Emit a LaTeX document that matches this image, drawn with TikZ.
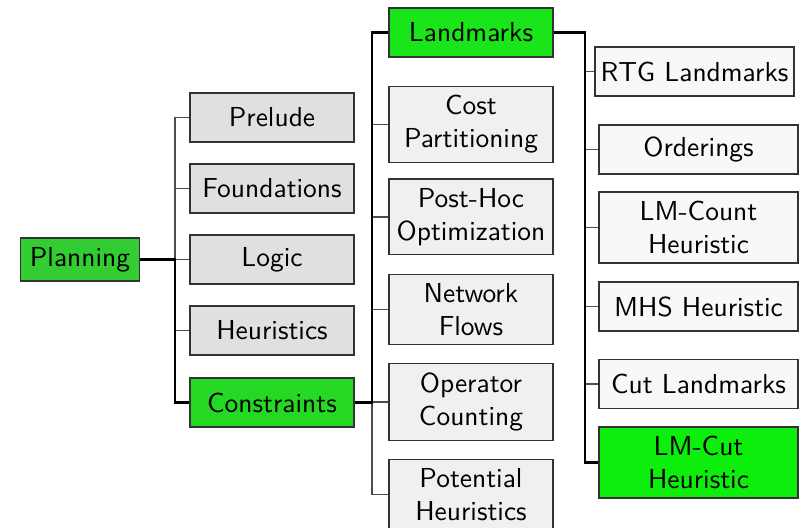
\documentclass[tikz,border=0pt]{standalone}
\usepackage{tikz}
\usetikzlibrary{positioning}
\definecolor{rootgreen}{RGB}{51,204,51}
\definecolor{onegreen}{RGB}{36,216,36}
\definecolor{twogreen}{RGB}{26,228,26}
\definecolor{threegreen}{RGB}{13,238,13}
\definecolor{grayone}{RGB}{224,224,224}
\definecolor{graytwo}{RGB}{240,240,240}
\definecolor{graythree}{RGB}{248,248,248}

\begin{document}
\begin{tikzpicture}[x=0.0128cm, y=-0.0128cm, font=\sffamily,
    box/.style={draw=black!80, rectangle, align=center, line width=0.5pt},
    lvlone/.style={box, fill=grayone, minimum width=2.099cm, minimum height=0.627cm},
    lvltwo/.style={box, fill=graytwo, minimum width=2.099cm, minimum height=0.627cm, inner xsep=1pt},
    lvlthree/.style={box, fill=graythree, minimum width=2.547cm, minimum height=0.627cm, inner xsep=2pt},
    link/.style={draw=black!70, line width=0.6pt},
    hot/.style={draw=black, line width=0.9pt}]
        \useasboundingbox (0,0) rectangle (802,528);

        % Root and first level
        \node[box, fill=rootgreen] (planning) at (80,259.5) {Planning};
        \node[lvlone] (prelude) at (272,117.5) {Prelude};
        \node[lvlone] (foundations) at (272,188.5) {Foundations};
        \node[lvlone] (logic) at (272,259.5) {Logic};
        \node[lvlone] (heuristics) at (272,330.5) {Heuristics};
        \node[lvlone, fill=onegreen] (constraints) at (272,402.5) {Constraints};

        % Second level
        \node[lvltwo, fill=twogreen] (landmarks) at (471,32.5) {Landmarks};
        \node[lvltwo] (costpart) at (471,124.5) {Cost\\Partitioning};
        \node[lvltwo] (posthoc) at (471,217) {Post-Hoc\\Optimization};
        \node[lvltwo] (netflows) at (471,309.5) {Network\\Flows};
        \node[lvltwo] (opcount) at (471,402) {Operator\\Counting};
        \node[lvltwo] (potential) at (471,494.5) {Potential\\Heuristics};

        % Third level
        \node[lvlthree, minimum width=2.522cm] (rtglm) at (694.5,71.5) {RTG Landmarks};
        \node[lvlthree] (orderings) at (698.5,149.5) {Orderings};
        \node[lvlthree] (lmcount) at (698.5,227.5) {LM-Count\\Heuristic};
        \node[lvlthree] (mhs) at (698.5,306.5) {MHS Heuristic};
        \node[lvlthree] (cutlm) at (698.5,384) {Cut Landmarks};
        \node[lvlthree, fill=threegreen] (lmcut) at (698.5,462.5) {LM-Cut\\Heuristic};

        % Fork points
        \coordinate (forkone) at (175,0);
        \coordinate (forktwo) at (372,0);
        \coordinate (forkthree) at (585,0);

        % Connectors, plain ones first, highlighted path on top
        \foreach \n in {prelude,foundations,logic,heuristics}
            \draw[link] (planning.east) -- (planning.east -| forkone) |- (\n.west);
        \foreach \n in {costpart,posthoc,netflows,opcount,potential}
            \draw[link] (constraints.east) -- (constraints.east -| forktwo) |- (\n.west);
        \foreach \n in {rtglm,orderings,lmcount,mhs,cutlm}
            \draw[link] (landmarks.east) -- (landmarks.east -| forkthree) |- (\n.west);
        \draw[hot] (planning.east) -- (planning.east -| forkone) |- (constraints.west);
        \draw[hot] (constraints.east) -- (constraints.east -| forktwo) |- (landmarks.west);
        \draw[hot] (landmarks.east) -- (landmarks.east -| forkthree) |- (lmcut.west);
    \end{tikzpicture}
\end{document}
